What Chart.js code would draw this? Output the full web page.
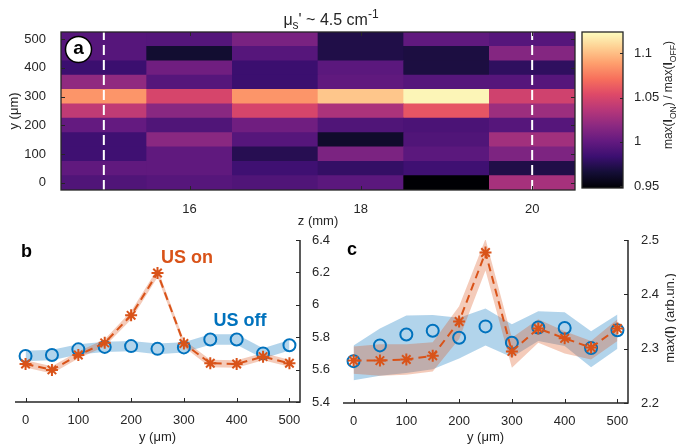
<!DOCTYPE html>
<html>
<head>
<meta charset="utf-8">
<script src="https://cdn.jsdelivr.net/npm/chart.js@4.4.1/dist/chart.umd.min.js"></script>
<style>
  body { margin: 0; background: #fff; width: 676px; height: 446px; overflow: hidden; position: relative; }
  canvas { position: absolute; }
</style>
</head>
<body>
<canvas id="heat" width="580" height="232" style="left:0;top:0"></canvas>
<canvas id="cbar" width="101" height="232" style="left:575px;top:0"></canvas>
<canvas id="panelB" width="335" height="214" style="left:0;top:232px"></canvas>
<canvas id="panelC" width="341" height="214" style="left:335px;top:232px"></canvas>
<script>
// --- Données ---
const zPos = [15, 16, 17, 18, 19, 20];                              // mm
const yPos = [0, 50, 100, 150, 200, 250, 300, 350, 400, 450, 500];  // µm
const zTicks = [16, 18, 20];
const yTicks = [0, 100, 200, 300, 400, 500];
const dashedZ = [15, 20];

// max(I_ON) / max(I_OFF) : une ligne par y (0 -> 500), une valeur par z
const ratioRows = [
  [0.992, 0.995, 0.992, 0.997, 0.948, 1.029],  // y = 0
  [0.999, 0.999, 0.985, 0.980, 0.985, 0.971],  // 50
  [0.985, 0.999, 0.974, 1.011, 0.997, 1.012],  // 100
  [0.985, 1.017, 0.995, 0.962, 0.992, 1.027],  // 150
  [1.001, 0.992, 1.006, 0.992, 0.990, 0.995],  // 200
  [1.040, 1.017, 1.050, 1.031, 1.059, 1.025],  // 250
  [1.085, 1.050, 1.085, 1.103, 1.121, 1.047],  // 300
  [1.020, 0.995, 0.983, 0.999, 0.995, 0.995],  // 350
  [0.983, 1.006, 0.983, 0.997, 0.969, 0.978],  // 400
  [0.995, 0.964, 0.995, 0.971, 0.969, 1.015],  // 450
  [0.995, 0.994, 1.010, 0.971, 0.999, 0.995]   // 500
];
const ratioRange = [0.948, 1.124];
const ratioTicks = [0.95, 1, 1.05, 1.1];

// panneau b
const bOff   = [5.684, 5.690, 5.725, 5.740, 5.745, 5.728, 5.737, 5.786, 5.786, 5.700, 5.750];
const bOffLo = [5.652, 5.658, 5.693, 5.708, 5.713, 5.695, 5.705, 5.754, 5.754, 5.668, 5.718];
const bOffHi = [5.716, 5.722, 5.757, 5.772, 5.777, 5.761, 5.769, 5.818, 5.818, 5.732, 5.782];
const bOn    = [5.635, 5.598, 5.690, 5.765, 5.935, 6.196, 5.761, 5.639, 5.635, 5.680, 5.639];
const bOnLo  = [5.613, 5.576, 5.668, 5.743, 5.910, 6.170, 5.739, 5.615, 5.612, 5.658, 5.617];
const bOnHi  = [5.657, 5.620, 5.712, 5.787, 5.960, 6.222, 5.783, 5.661, 5.658, 5.702, 5.661];
const bTicks = [5.4, 5.6, 5.8, 6, 6.2, 6.4];

// panneau c
const cOff   = [2.277, 2.306, 2.326, 2.333, 2.320, 2.341, 2.311, 2.339, 2.338, 2.301, 2.334];
const cOffLo = [2.242, 2.250, 2.255, 2.262, 2.282, 2.306, 2.284, 2.314, 2.305, 2.266, 2.300];
const cOffHi = [2.306, 2.337, 2.361, 2.362, 2.357, 2.374, 2.345, 2.369, 2.367, 2.332, 2.363];
const cOn    = [2.278, 2.278, 2.280, 2.287, 2.350, 2.477, 2.295, 2.337, 2.319, 2.302, 2.337];
const cOnLo  = [2.254, 2.250, 2.252, 2.258, 2.318, 2.444, 2.265, 2.311, 2.291, 2.280, 2.314];
const cOnHi  = [2.304, 2.308, 2.308, 2.312, 2.378, 2.502, 2.320, 2.354, 2.332, 2.314, 2.354];
const cTicks = [2.2, 2.3, 2.4, 2.5];

// --- Styles ---
const ink = '#262626';
const blue = '#0072BD', orange = '#D95319';
const blueBand = 'rgba(0, 114, 189, 0.3)', orangeBand = 'rgba(217, 83, 25, 0.3)';
const family = '"Liberation Sans", Arial, Helvetica, sans-serif';

Chart.defaults.font.family = family;
Chart.defaults.font.size = 13;
Chart.defaults.color = ink;
Chart.defaults.animation = false;
Chart.defaults.events = [];
Chart.defaults.plugins.legend.display = false;
Chart.defaults.plugins.tooltip.enabled = false;

// palette magma
const magmaStops = ['#000004', '#140e36', '#3b0f70', '#641a80', '#8c2981', '#b73779',
                    '#de4968', '#f7705c', '#fe9f6d', '#fecf92', '#fcfdbf'];
const hexRgb = h => [1, 3, 5].map(i => parseInt(h.slice(i, i + 2), 16));

function magma(t) {
  t = Math.min(1, Math.max(0, t));
  const p = t * 10, i = Math.min(9, Math.floor(p)), f = p - i;
  const a = hexRgb(magmaStops[i]), b = hexRgb(magmaStops[i + 1]);
  return `rgb(${a.map((c, k) => Math.round(c + (b[k] - c) * f)).join(',')})`;
}

function magmaGradient(chart) {
  const a = chart.chartArea;
  if (!a) return magma(0.5);
  const g = chart.ctx.createLinearGradient(0, a.bottom, 0, a.top);
  magmaStops.forEach((c, i) => g.addColorStop(i / 10, c));
  return g;
}

// texte avec gras / indices / exposants, centré sur (x, y)
function richText(ctx, parts, x, y, size, angle, small) {
  const fontOf = p => `${p.bold ? 'bold ' : ''}${(p.sub || p.sup) ? size * (small || 0.72) : size}px ${family}`;
  ctx.save();
  ctx.translate(x, y);
  ctx.rotate(angle || 0);
  ctx.textAlign = 'left';
  ctx.textBaseline = 'alphabetic';
  ctx.fillStyle = ink;
  let w = 0;
  parts.forEach(p => { ctx.font = fontOf(p); w += ctx.measureText(p.t).width; });
  let cx = -w / 2;
  parts.forEach(p => {
    ctx.font = fontOf(p);
    const dy = p.sub ? size * 0.3 : p.sup ? -size * 0.4 : 0;
    ctx.fillText(p.t, cx, size * 0.35 + dy);
    cx += ctx.measureText(p.t).width;
  });
  ctx.restore();
}

// graduations tournées vers l'intérieur
function innerTicks(ctx, chart, axisId, side, len) {
  const a = chart.chartArea, s = chart.scales[axisId];
  ctx.beginPath();
  s.ticks.forEach(t => {
    const p = Math.round(s.getPixelForValue(t.value)) + 0.5;
    if (side === 'bottom') { ctx.moveTo(p, a.bottom); ctx.lineTo(p, a.bottom - len); }
    if (side === 'top') { ctx.moveTo(p, a.top); ctx.lineTo(p, a.top + len); }
    if (side === 'left') { ctx.moveTo(a.left, p); ctx.lineTo(a.left + len, p); }
    if (side === 'right') { ctx.moveTo(a.right, p); ctx.lineTo(a.right - len, p); }
  });
  ctx.stroke();
}

const setTicks = list => s => { s.ticks = list.map(v => ({ value: v })); };

// --- Carte (a) ---
const heatDatasets = yPos.map((y, i) => ({
  data: zPos.map(z => ({ x: z, y: [y - 25, y + 25] })),
  backgroundColor: ratioRows[i].map(v => magma((v - ratioRange[0]) / (ratioRange[1] - ratioRange[0]))),
  borderWidth: 0,
  barPercentage: 1,
  categoryPercentage: 1,
  grouped: false
}));
dashedZ.forEach(z => heatDatasets.push({
  type: 'line',
  data: [{ x: z, y: -25 }, { x: z, y: 525 }],
  borderColor: '#fff',
  borderWidth: 2,
  borderDash: [10, 5],
  pointRadius: 0,
  order: -1
}));

const heatDeco = {
  id: 'heatDeco',
  afterDraw(chart) {
    const { ctx, chartArea: a } = chart;
    ctx.save();
    ctx.strokeStyle = ink;
    ctx.lineWidth = 1;
    innerTicks(ctx, chart, 'x', 'bottom', 4);
    innerTicks(ctx, chart, 'x', 'top', 4);
    innerTicks(ctx, chart, 'y', 'left', 4);
    innerTicks(ctx, chart, 'y', 'right', 4);
    ctx.lineWidth = 1.3;
    ctx.strokeRect(a.left, a.top, a.right - a.left, a.bottom - a.top);

    ctx.beginPath();
    ctx.arc(78.5, 49.5, 13, 0, 2 * Math.PI);
    ctx.fillStyle = '#fff';
    ctx.fill();
    ctx.lineWidth = 1.5;
    ctx.strokeStyle = '#000';
    ctx.stroke();
    ctx.fillStyle = '#000';
    ctx.font = `bold 19px ${family}`;
    ctx.textAlign = 'center';
    ctx.textBaseline = 'middle';
    ctx.fillText('a', 78.5, 49);
    ctx.restore();

    richText(ctx, [{ t: 'μ' }, { t: 's', sub: true }, { t: "' ~ 4.5 cm" }, { t: '-1', sup: true }],
             331, 19, 16, 0, 0.75);
  }
};

new Chart(document.getElementById('heat'), {
  type: 'bar',
  data: { datasets: heatDatasets },
  options: {
    responsive: false,
    devicePixelRatio: 1,
    layout: { padding: { top: 32, right: 5, left: 0, bottom: 0 } },
    scales: {
      x: {
        type: 'linear', min: 14.5, max: 20.5, offset: false,
        afterBuildTicks: setTicks(zTicks),
        afterFit: s => { s.height = 42; s.paddingLeft = 0; s.paddingRight = 0; },
        grid: { display: false }, border: { display: false },
        ticks: { padding: 4, maxRotation: 0, callback: v => String(v) },
        title: { display: true, text: 'z (mm)', padding: { top: 0, bottom: 3 } }
      },
      y: {
        type: 'linear', min: -25, max: 525,
        afterBuildTicks: setTicks(yTicks),
        afterFit: s => { s.width = 61; s.paddingTop = 0; s.paddingBottom = 0; },
        grid: { display: false }, border: { display: false },
        ticks: { padding: 7, callback: v => String(v) },
        title: { display: true, text: 'y (μm)', padding: { top: 7, bottom: 0 } }
      }
    }
  },
  plugins: [heatDeco]
});

// --- Barre de couleur ---
const cbarDeco = {
  id: 'cbarDeco',
  afterDraw(chart) {
    const { ctx, chartArea: a } = chart;
    ctx.save();
    ctx.strokeStyle = ink;
    ctx.lineWidth = 1;
    innerTicks(ctx, chart, 'y', 'right', 3);
    ctx.lineWidth = 1.3;
    ctx.strokeRect(a.left, a.top, a.right - a.left, a.bottom - a.top);
    ctx.restore();
    richText(ctx, [{ t: 'max(' }, { t: 'I', bold: true }, { t: 'ON', sub: true }, { t: ') / max(' },
                   { t: 'I', bold: true }, { t: 'OFF', sub: true }, { t: ')' }], 93, 95, 12, -Math.PI / 2);
  }
};

new Chart(document.getElementById('cbar'), {
  type: 'bar',
  data: {
    labels: [''],
    datasets: [{
      data: [ratioRange],
      backgroundColor: c => magmaGradient(c.chart),
      borderWidth: 0,
      barPercentage: 1,
      categoryPercentage: 1
    }]
  },
  options: {
    responsive: false,
    devicePixelRatio: 1,
    layout: { padding: { left: 7, top: 32, right: 0, bottom: 44 } },
    scales: {
      x: { display: false },
      y: {
        position: 'right', min: ratioRange[0], max: ratioRange[1],
        afterBuildTicks: setTicks(ratioTicks),
        afterFit: s => { s.width = 53; s.paddingTop = 0; s.paddingBottom = 0; },
        grid: { display: false }, border: { display: false },
        ticks: { padding: 3, callback: v => String(v) }
      }
    }
  },
  plugins: [cbarDeco]
});

// --- Panneaux b et c ---
function panel(id, s, yRange, yTickList, geo, deco) {
  const pts = arr => yPos.map((x, i) => ({ x, y: arr[i] }));
  const edge = { borderWidth: 0, borderColor: 'rgba(0,0,0,0)', pointRadius: 0 };
  new Chart(document.getElementById(id), {
    type: 'line',
    data: {
      datasets: [
        { ...edge, data: pts(s.offLo), fill: false, order: 10 },
        { ...edge, data: pts(s.offHi), fill: '-1', backgroundColor: blueBand, order: 9 },
        { ...edge, data: pts(s.onLo), fill: false, order: 8 },
        { ...edge, data: pts(s.onHi), fill: '-1', backgroundColor: orangeBand, order: 7 },
        {
          data: pts(s.off), showLine: false, pointStyle: 'circle', pointRadius: 6,
          pointBorderWidth: 2, pointBorderColor: blue, pointBackgroundColor: 'rgba(0,0,0,0)', order: 2
        },
        {
          data: pts(s.on), borderColor: orange, borderWidth: 2, borderDash: [8, 5], tension: 0,
          pointStyle: 'star', pointRadius: 6, pointBorderWidth: 2, pointBorderColor: orange, order: 1
        }
      ]
    },
    options: {
      responsive: false,
      devicePixelRatio: 1,
      layout: { padding: { left: geo.left, top: 7, right: 0, bottom: 0 } },
      scales: {
        x: {
          type: 'linear', min: -20, max: 520,
          afterBuildTicks: setTicks(yTicks),
          afterFit: sc => { sc.height = geo.xh; sc.paddingLeft = 0; sc.paddingRight = 0; },
          grid: { display: false }, border: { display: false },
          ticks: { padding: 3, maxRotation: 0, callback: v => String(v) },
          title: { display: true, text: 'y (μm)', padding: { top: 0, bottom: 1 } }
        },
        y: {
          type: 'linear', position: 'right', min: yRange[0], max: yRange[1],
          afterBuildTicks: setTicks(yTickList),
          afterFit: sc => { sc.width = geo.yw; sc.paddingTop = 0; sc.paddingBottom = 0; },
          grid: { display: false }, border: { display: false },
          ticks: { padding: geo.pad, callback: v => String(v) }
        }
      }
    },
    plugins: [{
      id: id + 'Deco',
      afterDraw(chart) {
        const { ctx, chartArea: a } = chart;
        ctx.save();
        ctx.strokeStyle = ink;
        ctx.lineWidth = 1;
        innerTicks(ctx, chart, 'x', 'bottom', 4);
        innerTicks(ctx, chart, 'y', 'right', 4);
        ctx.lineWidth = 1.5;
        ctx.beginPath();
        ctx.moveTo(a.left, a.bottom);
        ctx.lineTo(a.right, a.bottom);
        ctx.lineTo(a.right, a.top);
        ctx.stroke();
        ctx.restore();
        deco(ctx);
      }
    }]
  });
}

function label(ctx, text, x, y, color, align) {
  ctx.save();
  ctx.font = `bold 18px ${family}`;
  ctx.fillStyle = color;
  ctx.textAlign = align;
  ctx.textBaseline = 'alphabetic';
  ctx.fillText(text, x, y);
  ctx.restore();
}

panel('panelB',
  { off: bOff, offLo: bOffLo, offHi: bOffHi, on: bOn, onLo: bOnLo, onHi: bOnHi },
  [5.4, 6.4], bTicks, { left: 15, xh: 44, yw: 35, pad: 4 },
  ctx => {
    label(ctx, 'b', 21, 25, '#000', 'left');
    label(ctx, 'US on', 187, 31, orange, 'center');
    label(ctx, 'US off', 240, 94, blue, 'center');
  });

panel('panelC',
  { off: cOff, offLo: cOffLo, offHi: cOffHi, on: cOn, onLo: cOnLo, onHi: cOnHi },
  [2.2, 2.5], cTicks, { left: 7, xh: 43, yw: 48, pad: 5 },
  ctx => {
    label(ctx, 'c', 12, 23, '#000', 'left');
    richText(ctx, [{ t: 'max(' }, { t: 'I', bold: true }, { t: ') (arb.un.)' }], 334, 86, 13, -Math.PI / 2);
  });
</script>
</body>
</html>
